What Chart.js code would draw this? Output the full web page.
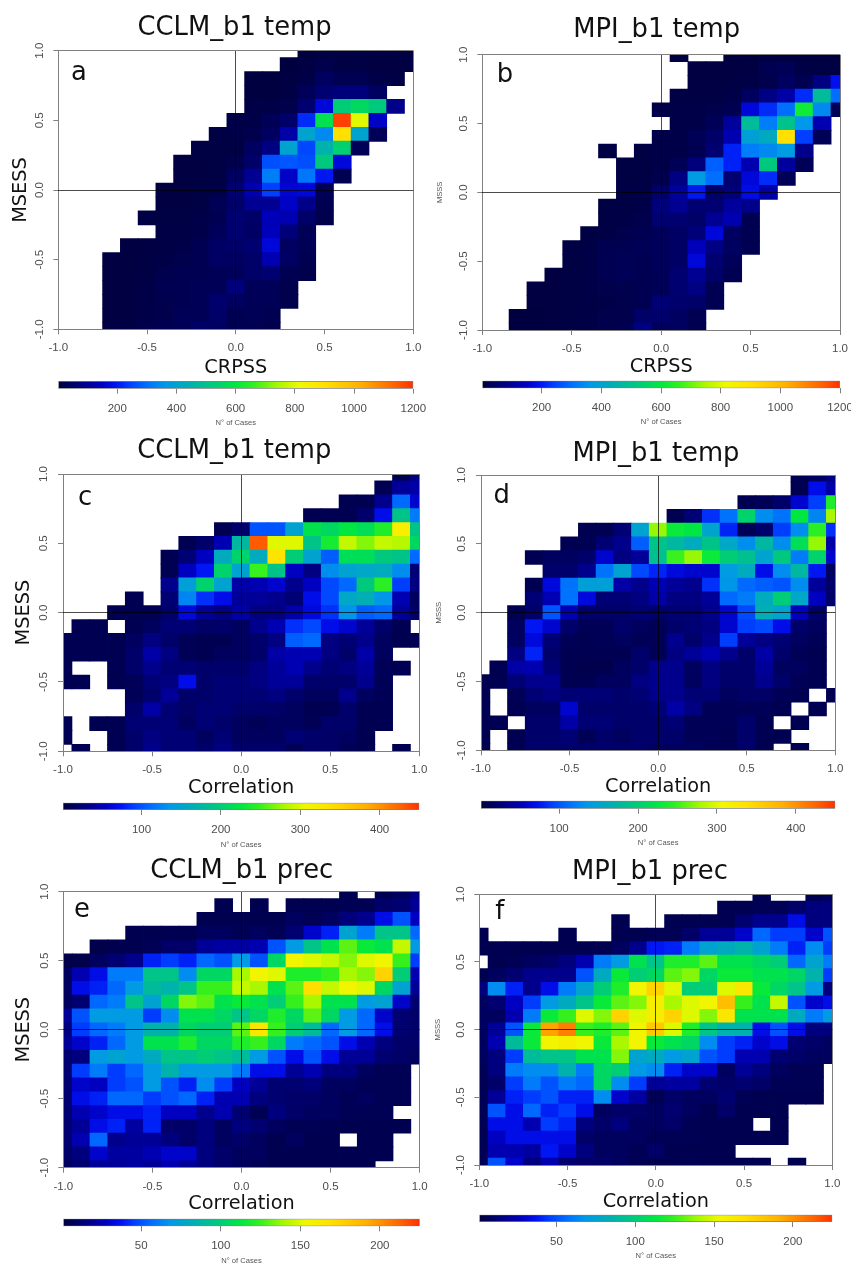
<!DOCTYPE html>
<html>
<head>
<meta charset="utf-8">
<title>MSESS density panels</title>
<script src="https://cdn.jsdelivr.net/npm/chart.js@4"></script>
<style>
    html, body { margin: 0; background: #fff; }
    #page { position: relative; width: 851px; height: 1263px; overflow: hidden; }
    #page canvas { position: absolute; }
</style>
</head>
<body>
<div id="page"></div>
<script>
// Bin centres, shared by both axes of every panel
const binCenters = [-1.0, -0.9, -0.8, -0.7, -0.6, -0.5, -0.4, -0.3, -0.2, -0.1, 0.0, 0.1, 0.2, 0.3, 0.4, 0.5, 0.6, 0.7, 0.8, 0.9, 1.0];
const rowCenters = [1.0, 0.9, 0.8, 0.7, 0.6, 0.5, 0.4, 0.3, 0.2, 0.1, 0.0, -0.1, -0.2, -0.3, -0.4, -0.5, -0.6, -0.7, -0.8, -0.9, -1.0];
const axisTicks = [-1.0, -0.5, 0.0, 0.5, 1.0];

// Colorbar ticks
const ticksCrpss = [200, 400, 600, 800, 1000, 1200];
const ticksTempCorr = [100, 200, 300, 400];
const ticksPrecCorr = [50, 100, 150, 200];

// Cases per cell, top row first (0 = no cases)
const casesA = [
    [0,0,0,0,0,0,0,0,0,0,0,0,0,0,6,8,8,8,8,8,8],
    [0,0,0,0,0,0,0,0,0,0,0,0,0,6,8,18,10,10,8,8,8],
    [0,0,0,0,0,0,0,0,0,0,0,6,6,8,15,40,25,25,15,12,0],
    [0,0,0,0,0,0,0,0,0,0,0,6,6,10,35,60,70,70,40,0,0],
    [0,0,0,0,0,0,0,0,0,0,0,12,15,20,60,170,530,560,520,90,0],
    [0,0,0,0,0,0,0,0,0,0,15,15,30,50,220,580,1180,800,150,0,0],
    [0,0,0,0,0,0,0,0,0,10,15,20,40,120,400,340,900,400,30,0,0],
    [0,0,0,0,0,0,0,0,10,10,10,40,80,400,250,450,540,30,0,0,0],
    [0,0,0,0,0,0,0,8,8,10,20,50,260,270,260,520,170,0,0,0,0],
    [0,0,0,0,0,0,0,8,8,10,40,100,320,150,310,200,25,0,0,0,0],
    [0,0,0,0,0,0,8,8,10,15,60,130,240,160,170,30,0,0,0,0,0],
    [0,0,0,0,0,0,8,8,10,30,50,100,100,150,90,25,0,0,0,0,0],
    [0,0,0,0,0,10,10,10,15,25,60,50,140,130,50,20,0,0,0,0,0],
    [0,0,0,0,0,0,10,12,15,35,60,45,140,70,30,0,0,0,0,0,0],
    [0,0,0,0,8,8,10,15,25,45,50,60,170,40,30,0,0,0,0,0,0],
    [0,0,0,8,8,10,12,20,25,45,40,50,130,45,25,0,0,0,0,0,0],
    [0,0,0,8,8,10,20,25,25,30,35,50,60,25,20,0,0,0,0,0,0],
    [0,0,0,8,8,15,25,25,30,30,70,35,30,20,0,0,0,0,0,0,0],
    [0,0,0,8,8,15,20,25,30,55,40,30,30,20,0,0,0,0,0,0,0],
    [0,0,0,8,8,15,20,30,30,50,25,30,25,0,0,0,0,0,0,0,0],
    [0,0,0,8,10,20,25,30,45,40,25,25,20,0,0,0,0,0,0,0,0]
];

const casesB = [
    [0,0,0,0,0,0,0,0,0,0,0,8,0,0,6,6,6,6,6,6,6],
    [0,0,0,0,0,0,0,0,0,0,0,0,8,8,8,8,25,30,12,10,10],
    [0,0,0,0,0,0,0,0,0,0,0,0,8,8,10,12,20,40,25,80,190],
    [0,0,0,0,0,0,0,0,0,0,0,10,10,10,15,40,80,120,220,480,300],
    [0,0,0,0,0,0,0,0,0,0,15,15,15,20,25,170,220,300,620,340,30],
    [0,0,0,0,0,0,0,0,0,0,0,15,15,30,110,480,320,500,360,130,0],
    [0,0,0,0,0,0,0,0,0,0,15,15,30,50,130,390,420,900,240,30,0],
    [0,0,0,0,0,0,0,10,0,10,15,15,25,60,210,320,340,370,90,0,0],
    [0,0,0,0,0,0,0,0,10,10,15,30,70,280,210,130,520,110,30,0,0],
    [0,0,0,0,0,0,0,0,10,10,20,80,370,300,60,170,220,30,0,0,0],
    [0,0,0,0,0,0,0,0,12,15,50,110,200,50,70,180,120,0,0,0,0],
    [0,0,0,0,0,0,0,10,10,15,70,100,60,60,110,90,0,0,0,0,0],
    [0,0,0,0,0,0,0,10,12,20,60,60,50,100,130,25,0,0,0,0,0],
    [0,0,0,0,0,0,10,12,20,25,35,45,70,170,40,25,0,0,0,0,0],
    [0,0,0,0,0,10,12,25,25,30,35,45,140,80,40,25,0,0,0,0,0],
    [0,0,0,0,0,10,12,25,30,25,35,45,170,60,35,0,0,0,0,0,0],
    [0,0,0,0,8,10,15,25,30,25,30,60,100,50,25,0,0,0,0,0,0],
    [0,0,0,8,8,10,15,20,20,25,30,60,80,25,0,0,0,0,0,0,0],
    [0,0,0,8,8,10,12,15,20,25,65,55,50,25,0,0,0,0,0,0,0],
    [0,0,6,6,8,10,12,20,20,50,55,40,25,0,0,0,0,0,0,0,0],
    [0,0,6,6,8,10,15,20,25,80,35,40,25,0,0,0,0,0,0,0,0]
];

const casesC = [
    [0,0,0,0,0,0,0,0,0,0,0,0,0,0,0,0,0,0,0,10,30],
    [0,0,0,0,0,0,0,0,0,0,0,0,0,0,0,0,0,0,10,40,45],
    [0,0,0,0,0,0,0,0,0,0,0,0,0,0,0,0,10,10,35,110,60],
    [0,0,0,0,0,0,0,0,0,0,0,0,0,0,10,10,10,20,70,190,120],
    [0,0,0,0,0,0,0,0,0,10,20,100,100,150,220,210,225,215,240,320,190],
    [0,0,0,0,0,0,0,10,20,50,175,430,300,300,190,235,290,270,290,285,210],
    [0,0,0,0,0,0,10,25,55,160,205,160,335,200,150,105,215,215,195,190,110],
    [0,0,0,0,0,0,10,55,75,205,150,250,190,55,30,130,150,155,160,130,25],
    [0,0,0,0,0,0,35,145,205,150,45,50,60,35,55,95,110,195,245,90,30],
    [0,0,0,0,10,0,25,125,85,70,40,40,35,25,70,95,155,165,135,50,15],
    [0,0,0,10,10,10,20,65,40,30,45,30,30,45,65,85,135,105,110,40,20],
    [0,10,10,0,10,15,25,25,18,20,15,35,50,85,95,70,60,40,20,10,0],
    [10,10,10,10,15,30,20,12,10,10,15,20,30,105,110,30,25,35,15,10,10],
    [10,10,10,10,20,45,30,12,10,15,15,20,45,50,50,30,20,45,15,0,0],
    [10,0,0,10,20,35,25,25,20,20,20,30,40,50,35,25,30,40,12,10,0],
    [10,10,0,10,12,25,30,70,20,25,25,30,40,40,20,20,20,35,12,0,0],
    [0,0,0,0,12,20,40,20,20,25,25,25,30,20,15,15,35,15,12,0,0],
    [0,0,0,0,20,45,25,18,25,25,20,20,18,15,10,10,20,10,10,0,0],
    [10,0,10,10,25,25,25,15,25,20,15,12,15,15,12,20,20,10,10,0,0],
    [10,0,0,10,20,30,25,25,15,25,15,15,15,25,20,18,15,10,0,0,0],
    [0,10,0,10,20,35,25,25,20,30,20,20,20,12,18,18,12,10,0,10,0]
];

const casesD = [
    [0,0,0,0,0,0,0,0,0,0,0,0,0,0,0,0,0,0,10,15,30],
    [0,0,0,0,0,0,0,0,0,0,0,0,0,0,0,0,0,0,10,70,45],
    [0,0,0,0,0,0,0,0,0,0,0,0,0,0,0,10,12,20,60,90,240],
    [0,0,0,0,0,0,0,0,0,0,0,10,25,85,115,205,130,115,225,125,280],
    [0,0,0,0,0,0,10,10,25,150,275,230,225,150,80,12,20,90,130,245,85],
    [0,0,0,0,0,10,10,25,35,105,190,175,160,190,155,130,175,130,215,275,45],
    [0,0,0,10,15,15,20,60,30,40,185,250,275,230,200,185,150,195,120,205,60],
    [0,0,0,0,20,20,35,115,150,95,80,65,60,60,140,160,70,130,175,75,15],
    [0,0,0,10,65,115,145,145,45,35,50,40,35,85,135,110,105,100,130,40,20],
    [0,0,0,25,50,115,65,25,25,30,45,30,30,40,110,120,160,200,155,55,20],
    [0,0,10,20,100,50,20,20,20,25,20,25,25,35,60,95,165,150,55,20,0],
    [0,0,15,75,60,20,12,12,20,15,12,20,25,30,60,90,95,70,20,15,0],
    [0,0,15,65,25,12,10,12,15,12,12,35,20,35,90,40,30,25,15,12,0],
    [0,0,30,80,20,10,10,10,10,20,12,30,40,50,35,20,45,20,12,10,0],
    [0,10,45,50,25,10,8,8,15,20,35,35,15,30,20,20,40,15,15,10,0],
    [10,10,25,35,35,10,10,15,15,30,35,35,15,30,20,20,35,20,12,10,0],
    [10,0,12,25,30,25,25,25,20,25,35,35,25,25,15,18,18,12,10,0,10],
    [10,0,10,15,15,60,20,20,20,20,25,45,30,12,12,12,12,10,0,10,0],
    [10,10,0,20,20,45,25,25,20,20,20,25,12,12,12,20,10,0,10,0,0],
    [10,0,10,20,20,25,12,20,15,20,20,20,12,12,10,20,10,10,0,0,0],
    [10,0,10,20,20,20,20,20,20,20,15,15,15,12,12,20,10,0,10,0,0]
];

const casesE = [
    [0,0,0,0,0,0,0,0,0,0,0,0,0,0,0,0,5,0,5,8,15],
    [0,0,0,0,0,0,0,0,0,5,0,5,0,5,5,5,6,6,10,12,20],
    [0,0,0,0,0,0,0,0,5,5,5,5,5,8,6,8,14,18,35,50,28],
    [0,0,0,0,5,5,5,5,8,8,6,8,6,12,30,40,75,60,95,95,55],
    [0,0,4,5,5,6,10,10,20,22,22,25,50,70,95,110,130,115,110,145,70],
    [4,4,8,12,18,40,45,40,55,50,70,50,105,155,150,145,135,150,155,125,45],
    [8,25,35,60,60,95,95,65,105,105,140,155,150,120,120,125,140,135,175,100,25],
    [8,35,40,55,70,90,85,95,125,125,145,140,110,130,170,145,155,150,105,75,20],
    [8,12,55,60,95,75,105,135,130,110,115,110,100,125,140,110,110,70,75,30,12],
    [20,50,70,70,70,45,65,110,110,105,95,105,120,105,130,105,70,55,30,12,10],
    [15,45,55,60,70,85,85,105,100,100,130,165,125,100,90,55,70,55,35,12,10],
    [20,30,40,55,70,110,110,120,105,105,120,125,105,60,55,50,35,25,15,10,10],
    [12,15,70,75,70,80,95,95,100,95,90,70,50,35,50,35,20,20,12,10,8],
    [12,45,60,45,55,70,85,70,70,70,60,35,35,20,25,15,15,8,6,6,0],
    [12,30,28,45,50,70,50,40,65,45,28,20,12,12,14,8,8,6,6,6,0],
    [12,35,40,55,55,45,50,55,40,25,25,15,12,10,10,8,6,8,6,6,0],
    [12,25,30,35,35,40,28,28,18,25,12,6,15,10,8,8,6,6,6,0,0],
    [12,20,35,40,22,40,10,10,15,8,15,12,8,6,6,5,5,5,5,5,0],
    [12,25,55,18,20,20,15,10,15,8,10,8,5,8,5,5,0,5,5,0,0],
    [10,15,30,22,22,25,30,30,15,10,8,8,5,5,5,5,5,5,5,0,0],
    [8,12,20,20,22,20,25,20,15,10,8,6,5,5,5,5,5,5,0,0,0]
];

const casesF = [
    [0,0,0,0,0,0,0,0,0,0,0,0,0,0,0,0,5,0,0,5,8],
    [0,0,0,0,0,0,0,0,0,0,0,0,0,0,5,5,6,6,10,15,15],
    [0,0,0,0,0,0,0,0,5,0,0,5,5,5,5,12,18,18,35,15,15],
    [5,0,0,0,0,5,0,0,5,5,6,6,10,20,20,30,55,45,45,30,50],
    [5,5,5,5,5,5,5,5,8,18,38,40,60,75,80,85,75,60,40,65,45],
    [0,5,6,8,10,15,25,60,70,110,95,120,120,130,110,110,105,100,55,75,60],
    [5,8,12,18,18,18,50,80,115,100,105,130,135,105,115,115,110,110,105,85,45],
    [15,65,40,18,35,60,75,100,120,155,175,150,100,100,150,165,115,105,95,70,15],
    [8,12,28,45,70,80,95,115,130,135,160,140,150,155,185,125,110,145,50,30,35],
    [8,8,25,60,115,125,150,135,175,150,160,175,150,135,165,110,110,110,80,60,70],
    [8,20,50,115,195,205,125,120,130,155,180,150,120,95,85,85,35,50,35,15,15],
    [8,25,90,115,155,160,155,115,140,155,115,110,105,65,45,40,30,35,12,10,8],
    [8,15,45,90,95,95,110,110,135,75,80,70,75,50,45,25,25,12,10,8,8],
    [6,15,60,65,65,85,60,105,100,70,65,40,30,30,8,20,15,8,6,6,0],
    [6,10,45,60,50,60,55,105,65,45,20,22,22,12,10,12,10,6,6,6,0],
    [6,20,40,45,50,40,40,65,30,22,6,10,8,8,12,6,5,5,5,5,0],
    [6,50,35,55,40,45,35,8,10,10,8,12,8,5,10,5,5,5,0,0,0],
    [6,35,35,25,45,40,15,10,15,8,8,10,6,5,5,5,0,5,0,0,0],
    [6,28,35,35,35,35,10,8,8,8,6,6,6,5,5,5,5,5,0,0,0],
    [6,25,25,22,38,30,15,8,8,6,10,5,5,5,5,0,0,0,0,0,0],
    [6,50,30,15,25,12,10,10,8,6,5,5,6,5,5,5,5,0,5,0,0]
];

// Colour ramp of the figure
const rampStops = [0, 0.04, 0.08, 0.12, 0.16, 0.20, 0.25, 0.30, 0.37, 0.45, 0.50, 0.55, 0.62, 0.68, 0.75, 0.85, 0.95, 1];
const rampColors = ['#00003c', '#000068', '#000090', '#0000c0', '#0010f0', '#0040ff', '#0070ff', '#0098e8', '#00b0b0', '#00d070', '#00e840', '#30f020', '#a8f800', '#f0f800', '#ffe000', '#ffb000', '#ff6000', '#ff3000'];

const rampRgb = rampColors.map(hex => [1, 3, 5].map(i => parseInt(hex.slice(i, i + 2), 16)));

function colorFor(value, max) {
    const t = Math.min(1, Math.max(0, (value - 1) / (max - 1)));
    let i = 0;
    while (i < rampStops.length - 2 && t > rampStops[i + 1]) i++;
    const f = (t - rampStops[i]) / (rampStops[i + 1] - rampStops[i]);
    const c = rampRgb[i].map((v, k) => Math.round(v + (rampRgb[i + 1][k] - v) * f));
    return `rgb(${c[0]}, ${c[1]}, ${c[2]})`;
}

function addCanvas(left, top, width, height) {
    const canvas = document.createElement('canvas');
    canvas.width = width;
    canvas.height = height;
    canvas.style.left = left + 'px';
    canvas.style.top = top + 'px';
    canvas.style.width = width + 'px';
    canvas.style.height = height + 'px';
    document.getElementById('page').appendChild(canvas);
    return canvas;
}

const tickFont = { family: 'Liberation Sans', size: 11.5 };
const tickColor = '#4d4d4d';
const axisGrey = '#808080';
const CANVAS_W = 440;

// One panel: a floating bar per non-empty cell on two linear axes
function createHeatmap(p) {
    const canvasLeft = p.left < 425 ? 0 : 425;
    const canvasTop = Math.floor(p.top) - 50;
    const canvasBottom = Math.ceil(p.xTitleY + 13);
    const canvas = addCanvas(canvasLeft, canvasTop, CANVAS_W, canvasBottom - canvasTop);

    const cells = [];
    p.cases.forEach((row, r) => {
        row.forEach((n, c) => {
            if (!n) return;
            const lo = Math.max(rowCenters[r] - 0.05, -1);
            const hi = Math.min(rowCenters[r] + 0.05, 1);
            cells.push({ x: binCenters[c], y: [lo, hi], n: n });
        });
    });

    const lineColor = (ctx) => {
        const v = ctx.tick.value;
        if (v === 0) return 'rgba(0, 0, 0, 0.7)';
        return Math.abs(v) === 1 ? axisGrey : 'transparent';
    };
    const pinTicks = (axis) => { axis.ticks = axisTicks.map(value => ({ value })); };
    const yTitleSize = p.yTitleSize;
    const yTitleLh = yTitleSize * 1.2;

    const labels = {
        id: 'panelText',
        afterDraw(chart) {
            const ctx = chart.ctx;
            ctx.save();
            ctx.fillStyle = '#111';
            ctx.textAlign = 'center';
            ctx.textBaseline = 'middle';
            ctx.font = '25.8px "DejaVu Sans"';
            ctx.fillText(p.title, p.titleX - canvasLeft, p.titleY + 2 - canvasTop);
            ctx.fillText(p.letter, p.letterX - canvasLeft, p.letterY + 2 - canvasTop);
            ctx.restore();
        }
    };

    return new Chart(canvas, {
        type: 'bar',
        data: {
            datasets: [{
                data: cells,
                backgroundColor: cells.map(cell => colorFor(cell.n, p.max)),
                borderWidth: 0,
                inflateAmount: 0.4,
                categoryPercentage: 1,
                barPercentage: 1
            }]
        },
        options: {
            responsive: false,
            animation: false,
            events: [],
            layout: {
                padding: {
                    left: 0,
                    bottom: 0,
                    top: p.top - canvasTop,
                    right: canvasLeft + CANVAS_W - p.right
                }
            },
            plugins: { legend: { display: false }, tooltip: { enabled: false } },
            scales: {
                x: {
                    type: 'linear',
                    min: -1,
                    max: 1,
                    offset: false,
                    afterBuildTicks: pinTicks,
                    afterFit: (scale) => { scale.height = canvasBottom - p.bottom; },
                    grid: { offset: false, color: lineColor, tickColor: axisGrey, tickLength: 5, z: 1 },
                    border: { display: false },
                    ticks: {
                        font: tickFont,
                        color: tickColor,
                        padding: 7,
                        autoSkip: false,
                        maxRotation: 0,
                        callback: v => v.toFixed(1)
                    },
                    title: {
                        display: true,
                        text: p.xTitle,
                        color: '#111',
                        font: { family: 'DejaVu Sans', size: 19.3 },
                        padding: { top: canvasBottom - p.xTitleY - 11.58, bottom: 0 }
                    }
                },
                y: {
                    min: -1,
                    max: 1,
                    beginAtZero: false,
                    afterBuildTicks: pinTicks,
                    afterFit: (scale) => { scale.width = p.left - canvasLeft; },
                    grid: { color: lineColor, tickColor: axisGrey, tickLength: 5, z: 1 },
                    border: { display: false },
                    ticks: {
                        font: tickFont,
                        color: tickColor,
                        padding: 4,
                        minRotation: 90,
                        maxRotation: 90,
                        crossAlign: 'center',
                        autoSkip: false,
                        callback: v => v.toFixed(1)
                    },
                    title: {
                        display: true,
                        text: p.yTitle,
                        color: p.yTitleColor,
                        font: { family: p.yTitleFont, size: yTitleSize },
                        padding: { top: p.yTitleX - canvasLeft - yTitleLh / 2, bottom: 0 }
                    }
                }
            }
        },
        plugins: [labels]
    });
}

// Colorbar under a panel: one floating bar with the ramp as gradient
function createColorbar(b) {
    const canvasLeft = b.left < 425 ? 0 : 425;
    const canvasTop = Math.floor(b.top) - 4;
    const canvasBottom = Math.ceil(b.titleY + 6);
    const canvas = addCanvas(canvasLeft, canvasTop, CANVAS_W, canvasBottom - canvasTop);

    const fill = (ctx) => {
        const area = ctx.chart.chartArea;
        if (!area) return rampColors[0];
        const g = ctx.chart.ctx.createLinearGradient(area.left, 0, area.right, 0);
        rampStops.forEach((s, i) => g.addColorStop(s, rampColors[i]));
        return g;
    };

    return new Chart(canvas, {
        type: 'bar',
        data: {
            labels: ['cases'],
            datasets: [{
                data: [[1, b.max]],
                backgroundColor: fill,
                borderColor: axisGrey,
                borderWidth: 1,
                borderSkipped: false,
                categoryPercentage: 1,
                barPercentage: 1
            }]
        },
        options: {
            indexAxis: 'y',
            responsive: false,
            animation: false,
            events: [],
            layout: {
                padding: {
                    left: b.left - canvasLeft,
                    top: b.top - canvasTop,
                    right: canvasLeft + CANVAS_W - b.right,
                    bottom: 0
                }
            },
            plugins: { legend: { display: false }, tooltip: { enabled: false } },
            scales: {
                y: { display: false },
                x: {
                    type: 'linear',
                    min: 1,
                    max: b.max,
                    beginAtZero: false,
                    afterBuildTicks: (axis) => { axis.ticks = b.ticks.map(value => ({ value })); },
                    afterFit: (scale) => { scale.height = canvasBottom - b.bottom; },
                    grid: { drawOnChartArea: false, color: axisGrey, tickColor: axisGrey, tickLength: 5 },
                    border: { display: false },
                    ticks: {
                        font: tickFont,
                        color: tickColor,
                        padding: 8,
                        autoSkip: false,
                        maxRotation: 0,
                        callback: v => String(v)
                    },
                    title: {
                        display: true,
                        text: 'N° of Cases',
                        color: '#555',
                        font: { family: 'Liberation Sans', size: 7.6 },
                        padding: { top: canvasBottom - b.titleY - 4.56, bottom: 0 }
                    }
                }
            }
        }
    });
}

const BIG_Y = { yTitle: 'MSESS', yTitleSize: 19.3, yTitleFont: 'DejaVu Sans', yTitleColor: '#111' };
const SMALL_Y = { yTitle: 'MSSS', yTitleSize: 7.6, yTitleFont: 'Liberation Sans', yTitleColor: '#555' };

const panels = [
    { ...BIG_Y, cases: casesA, max: 1200, title: 'CCLM_b1 temp', letter: 'a', xTitle: 'CRPSS', left: 58.3, right: 413.3, top: 50.7, bottom: 329.3, titleX: 234.5, titleY: 26, letterX: 79, letterY: 71, xTitleY: 367, yTitleX: 21 },
    { ...SMALL_Y, cases: casesB, max: 1200, title: 'MPI_b1 temp', letter: 'b', xTitle: 'CRPSS', left: 482.3, right: 840, top: 54.7, bottom: 330, titleX: 656.7, titleY: 28, letterX: 505, letterY: 73, xTitleY: 366, yTitleX: 440 },
    { ...BIG_Y, cases: casesC, max: 450, title: 'CCLM_b1 temp', letter: 'c', xTitle: 'Correlation', left: 63, right: 419.3, top: 474, bottom: 751.3, titleX: 234.3, titleY: 449, letterX: 85, letterY: 496, xTitleY: 787, yTitleX: 24 },
    { ...SMALL_Y, cases: casesD, max: 450, title: 'MPI_b1 temp', letter: 'd', xTitle: 'Correlation', left: 481, right: 835.3, top: 475, bottom: 750.3, titleX: 656, titleY: 452, letterX: 501.7, letterY: 494, xTitleY: 785.7, yTitleX: 439 },
    { ...BIG_Y, cases: casesE, max: 225, title: 'CCLM_b1 prec', letter: 'e', xTitle: 'Correlation', left: 63.3, right: 419.7, top: 891.7, bottom: 1167.7, titleX: 241.7, titleY: 869, letterX: 82, letterY: 908, xTitleY: 1203, yTitleX: 24 },
    { ...SMALL_Y, cases: casesF, max: 225, title: 'MPI_b1 prec', letter: 'f', xTitle: 'Correlation', left: 479.3, right: 832.3, top: 894.3, bottom: 1165, titleX: 650, titleY: 870.7, letterX: 499.7, letterY: 910.7, xTitleY: 1200.7, yTitleX: 438 }
];

const colorbars = [
    { max: 1200, ticks: ticksCrpss, left: 58.3, right: 413.3, top: 381, bottom: 388.7, titleY: 421 },
    { max: 1200, ticks: ticksCrpss, left: 482.3, right: 840, top: 380.7, bottom: 388.3, titleY: 420 },
    { max: 450, ticks: ticksTempCorr, left: 63, right: 419.3, top: 802.7, bottom: 810, titleY: 842.3 },
    { max: 450, ticks: ticksTempCorr, left: 481, right: 835.3, top: 800.7, bottom: 808.7, titleY: 840.7 },
    { max: 225, ticks: ticksPrecCorr, left: 63.3, right: 419.7, top: 1218.7, bottom: 1226.3, titleY: 1258.7 },
    { max: 225, ticks: ticksPrecCorr, left: 479.3, right: 832.3, top: 1214.7, bottom: 1222, titleY: 1253.7 }
];

panels.forEach(createHeatmap);
colorbars.forEach(createColorbar);
</script>
</body>
</html>
